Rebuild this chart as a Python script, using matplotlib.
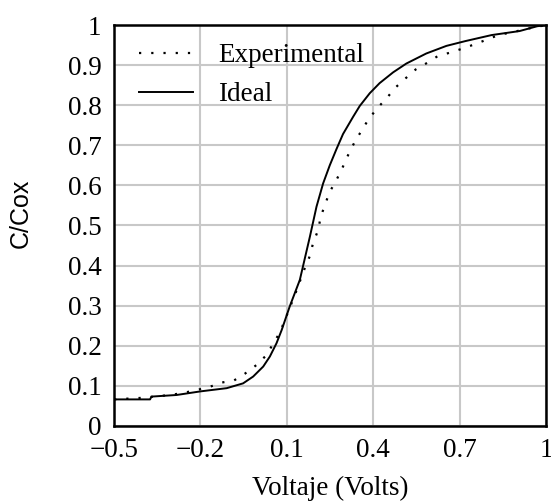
import matplotlib
matplotlib.use('Agg')
import matplotlib.pyplot as plt
import numpy as np

# curva ideal (línea sólida)
v_ideal = [-0.5, -0.375, -0.37, -0.283, -0.2, -0.109, -0.052, -0.017, 0.018, 0.041, 0.064,
           0.082, 0.11, 0.145, 0.18, 0.203, 0.226, 0.249, 0.272, 0.295, 0.33, 0.353, 0.388,
           0.422, 0.469, 0.515, 0.584, 0.654, 0.72, 0.811, 0.908, 0.969, 1.0]
c_ideal = [0.066, 0.066, 0.073, 0.077, 0.086, 0.094, 0.106, 0.123, 0.148, 0.173, 0.206,
           0.239, 0.298, 0.364, 0.472, 0.547, 0.605, 0.650, 0.690, 0.728, 0.771, 0.798, 0.830,
           0.855, 0.882, 0.904, 0.929, 0.948, 0.960, 0.975, 0.985, 0.997, 1.0]

# curva experimental (línea punteada)
v_exp = [-0.5, -0.4, -0.306, -0.26, -0.173, -0.127, -0.084, -0.046, -0.005, 0.03, 0.053,
         0.076, 0.128, 0.162, 0.18, 0.191, 0.209, 0.217, 0.232, 0.249, 0.272, 0.295, 0.313,
         0.336, 0.359, 0.382, 0.413, 0.446, 0.477, 0.509, 0.547, 0.588, 0.625, 0.671,
         0.713, 0.756, 0.835, 0.90, 0.95, 1.0]
c_exp = [0.066, 0.070, 0.077, 0.082, 0.096, 0.108, 0.113, 0.130, 0.152, 0.177, 0.206,
         0.233, 0.327, 0.393, 0.424, 0.456, 0.489, 0.520, 0.551, 0.584, 0.613, 0.647, 0.676,
         0.709, 0.736, 0.763, 0.792, 0.817, 0.844, 0.865, 0.889, 0.906, 0.923, 0.932,
         0.942, 0.953, 0.975, 0.985, 0.993, 1.0]

x_ticks = [-0.5, -0.2, 0.1, 0.4, 0.7, 1.0]
x_labels = ['\u22120.5', '\u22120.2', '0.1', '0.4', '0.7', '1']
y_ticks = [0, 0.1, 0.2, 0.3, 0.4, 0.5, 0.6, 0.7, 0.8, 0.9, 1.0]
y_labels = ['0', '0.1', '0.2', '0.3', '0.4', '0.5', '0.6', '0.7', '0.8', '0.9', '1']

plt.rcParams['font.family'] = 'Liberation Serif'

fig = plt.figure(figsize=(5.51, 5.01), dpi=100)
ax = fig.add_axes([0.207, 0.150, 0.784, 0.800])

ax.plot(v_exp, c_exp, color='black', lw=1.6, linestyle=(0, (1.0, 4.5)), label='Experimental')
ax.plot(v_ideal, c_ideal, color='black', lw=1.4, label='Ideal')

ax.set_xlim(-0.5, 1.0)
ax.set_ylim(0, 1.0)
ax.set_xticks(x_ticks)
ax.set_xticklabels(x_labels)
ax.set_yticks(y_ticks)
ax.set_yticklabels(y_labels)
ax.tick_params(length=0, labelsize=19.5)
ax.tick_params(axis='y', pad=9)
ax.tick_params(axis='x', pad=9)
ax.grid(True, color='#c8c8c8', lw=1.5)
ax.set_axisbelow(True)
for s in ax.spines.values():
    s.set_linewidth(1.8)

ax.set_xlabel('Voltaje (Volts)', fontsize=19.5, labelpad=9)
ax.set_ylabel('C/Cox', fontsize=18, family='Liberation Sans')
ax.yaxis.set_label_coords(-0.1875, 0.531)

ax.legend(loc='upper left', bbox_to_anchor=(0.058, 0.955), frameon=False, fontsize=19.5,
          handlelength=2.0, handletextpad=0.92, labelspacing=0.52, borderpad=0,
          borderaxespad=0)

fig.savefig('out.png', dpi=100)
